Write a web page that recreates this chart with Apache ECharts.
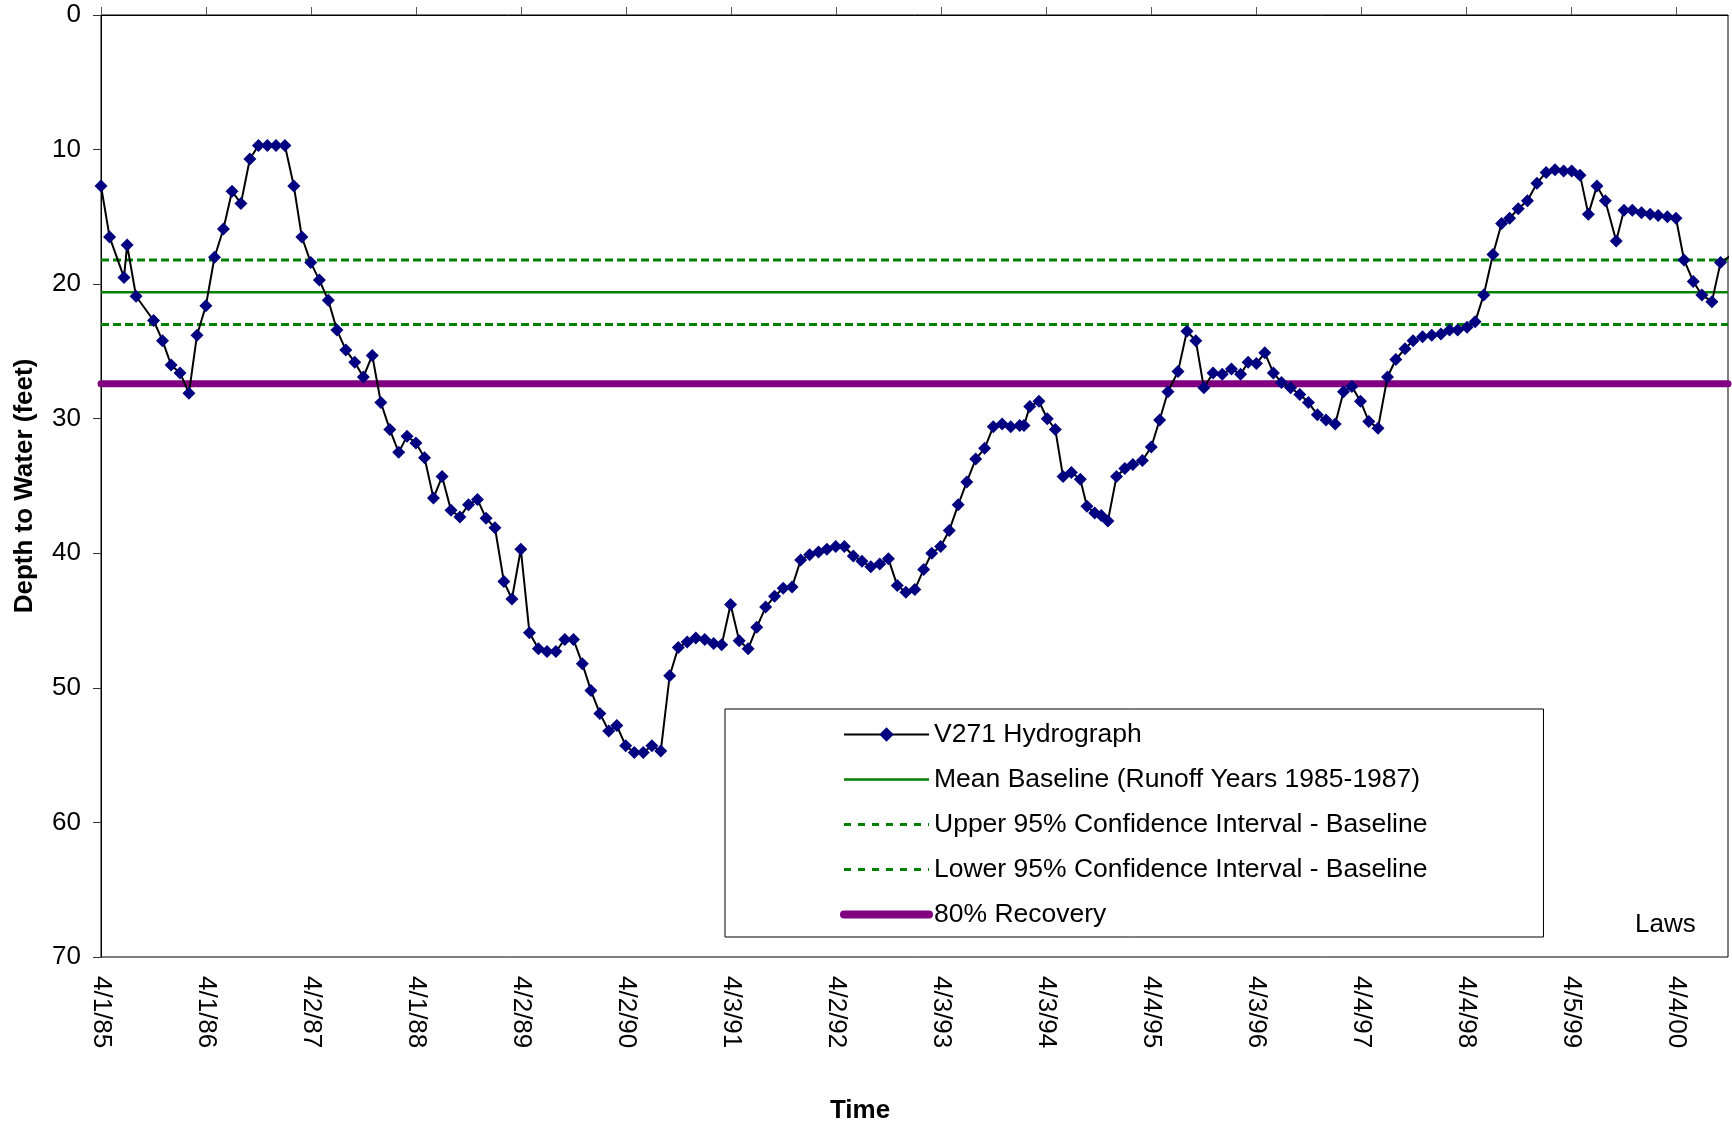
<!DOCTYPE html>
<html>
<head>
<meta charset="utf-8">
<title>V271 Hydrograph - Laws</title>
<script src="https://cdn.jsdelivr.net/npm/echarts@6/dist/echarts.min.js"></script>
<style>
html, body { margin: 0; padding: 0; background: #fff; }
#chart { width: 1732px; height: 1126px; }
</style>
</head>
<body>
<div id="chart"></div>
<script>
var dates = [
  '1985-04-01','1985-05-01','1985-06-20','1985-07-01','1985-08-01','1985-10-01','1985-11-01','1985-12-01',
  '1986-01-01','1986-02-01','1986-03-01','1986-04-01','1986-05-01','1986-06-01','1986-07-01','1986-08-01',
  '1986-09-01','1986-10-01','1986-11-01','1986-12-01','1987-01-01','1987-02-01','1987-03-01','1987-04-01',
  '1987-05-01','1987-06-01','1987-07-01','1987-08-01','1987-09-01','1987-10-01','1987-11-01','1987-12-01',
  '1988-01-01','1988-02-01','1988-03-01','1988-04-01','1988-05-01','1988-06-01','1988-07-01','1988-08-01',
  '1988-09-01','1988-10-01','1988-11-01','1988-12-01','1989-01-01','1989-02-01','1989-03-01','1989-04-01',
  '1989-05-01','1989-06-01','1989-07-01','1989-08-01','1989-09-01','1989-10-01','1989-11-01','1989-12-01',
  '1990-01-01','1990-02-01','1990-03-01','1990-04-01','1990-05-01','1990-06-01','1990-07-01','1990-08-01',
  '1990-09-01','1990-10-01','1990-11-01','1990-12-01','1991-01-01','1991-02-01','1991-03-01','1991-04-01',
  '1991-05-01','1991-06-01','1991-07-01','1991-08-01','1991-09-01','1991-10-01','1991-11-01','1991-12-01',
  '1992-01-01','1992-02-01','1992-03-01','1992-04-01','1992-05-01','1992-06-01','1992-07-01','1992-08-01',
  '1992-09-01','1992-10-01','1992-11-01','1992-12-01','1993-01-01','1993-02-01','1993-03-01','1993-04-01',
  '1993-05-01','1993-06-01','1993-07-01','1993-08-01','1993-09-01','1993-10-01','1993-11-01','1993-12-01',
  '1994-01-01','1994-01-16','1994-02-05','1994-03-09','1994-04-07','1994-05-05','1994-06-01','1994-06-30',
  '1994-07-31','1994-08-23','1994-09-19','1994-10-12','1994-11-04','1994-12-04','1995-01-02','1995-01-30',
  '1995-03-04','1995-04-04','1995-05-03','1995-06-01','1995-07-06','1995-08-06','1995-09-06','1995-10-04',
  '1995-11-05','1995-12-07','1996-01-08','1996-02-09','1996-03-06','1996-04-04','1996-05-03','1996-06-02',
  '1996-06-30','1996-08-01','1996-09-02','1996-10-02','1996-11-02','1996-12-02','1997-01-03','1997-02-01',
  '1997-03-02','1997-04-01','1997-04-30','1997-06-01','1997-07-04','1997-08-02','1997-09-03','1997-10-01',
  '1997-11-03','1997-12-05','1998-01-06','1998-02-05','1998-03-05','1998-04-07','1998-05-05','1998-06-04',
  '1998-07-06','1998-08-05','1998-09-02','1998-10-02','1998-11-03','1998-12-06','1999-01-07','1999-02-07',
  '1999-03-09','1999-04-06','1999-05-05','1999-06-03','1999-07-03','1999-08-01','1999-09-08','1999-10-05',
  '1999-11-03','1999-12-05','2000-01-04','2000-02-01','2000-03-04','2000-04-03','2000-05-01','2000-06-02',
  '2000-07-02','2000-08-06','2000-09-05','2000-10-09'
];
var depth = [
  12.7, 16.5, 19.5, 17.1, 20.9, 22.7, 24.2, 26.0,
  26.6, 28.1, 23.8, 21.6, 18.0, 15.9, 13.1, 14.0,
  10.7, 9.7, 9.7, 9.7, 9.7, 12.7, 16.5, 18.4,
  19.7, 21.2, 23.4, 24.9, 25.8, 26.9, 25.3, 28.8,
  30.8, 32.5, 31.3, 31.8, 32.9, 35.9, 34.3, 36.8,
  37.3, 36.4, 36.0, 37.4, 38.1, 42.1, 43.4, 39.7,
  45.9, 47.1, 47.3, 47.3, 46.4, 46.4, 48.2, 50.2,
  51.9, 53.2, 52.8, 54.3, 54.8, 54.8, 54.3, 54.7,
  49.1, 47.0, 46.6, 46.3, 46.4, 46.7, 46.8, 43.8,
  46.5, 47.1, 45.5, 44.0, 43.2, 42.6, 42.5, 40.5,
  40.1, 39.9, 39.7, 39.5, 39.5, 40.2, 40.6, 41.0,
  40.8, 40.4, 42.4, 42.9, 42.7, 41.2, 40.0, 39.5,
  38.3, 36.4, 34.7, 33.0, 32.2, 30.6, 30.4, 30.6,
  30.5, 30.5, 29.1, 28.7, 30.0, 30.8, 34.3, 34.0,
  34.5, 36.5, 37.0, 37.2, 37.6, 34.3, 33.7, 33.4,
  33.1, 32.1, 30.1, 28.0, 26.5, 23.5, 24.2, 27.7,
  26.6, 26.7, 26.3, 26.7, 25.8, 25.9, 25.1, 26.6,
  27.3, 27.7, 28.2, 28.8, 29.7, 30.1, 30.4, 28.0,
  27.6, 28.7, 30.2, 30.7, 26.9, 25.6, 24.8, 24.2,
  23.9, 23.8, 23.7, 23.4, 23.4, 23.2, 22.8, 20.8,
  17.8, 15.5, 15.1, 14.4, 13.8, 12.5, 11.7, 11.5,
  11.6, 11.6, 11.9, 14.8, 12.7, 13.8, 16.8, 14.5,
  14.5, 14.7, 14.8, 14.9, 15.0, 15.1, 18.2, 19.8,
  20.8, 21.3, 18.4, 17.9
];

// axis tick labels (one every 365.5 days from 4/1/85)
var tickLabels = ['4/1/85','4/1/86','4/2/87','4/1/88','4/2/89','4/2/90','4/3/91','4/2/92',
                  '4/3/93','4/3/94','4/4/95','4/3/96','4/4/97','4/4/98','4/5/99','4/4/00'];

// baseline reference levels (feet)
var meanBaseline = 20.6;
var upperCI = 18.2;
var lowerCI = 23.0;
var recovery80 = 27.4;

var ORIGIN = Date.UTC(1985, 3, 1);
var TICK_STEP = 365.5;
var XMAX = 5662;
var FONT = '"Liberation Sans", Arial, Helvetica, sans-serif';

function toDay(s) {
  var p = s.split('-');
  return (Date.UTC(+p[0], +p[1] - 1, +p[2]) - ORIGIN) / 86400000;
}

var points = [];
for (var i = 0; i < dates.length; i++) {
  points.push([toDay(dates[i]), depth[i]]);
}
var tickValues = tickLabels.map(function (l, k) { return k * TICK_STEP; });

function flat(v) {
  return [[0, v], [XMAX, v]];
}

var MEAN = 'Mean Baseline (Runoff Years 1985-1987)';
var UPPER = 'Upper 95% Confidence Interval - Baseline';
var LOWER = 'Lower 95% Confidence Interval - Baseline';
var REC = '80% Recovery';

var chart = echarts.init(document.getElementById('chart'));
chart.setOption({
  animation: false,
  backgroundColor: '#fff',
  textStyle: { fontFamily: FONT },
  grid: {
    left: 101, top: 15, width: 1627, height: 942,
    show: true, borderColor: '#000', borderWidth: 1, backgroundColor: 'transparent'
  },
  legend: {
    orient: 'vertical',
    left: 725, top: 709,
    padding: [12, 116, 9, 115],
    backgroundColor: '#fff',
    borderColor: '#000',
    borderWidth: 1,
    itemWidth: 85,
    itemHeight: 18,
    itemGap: 18,
    selectedMode: false,
    textStyle: { fontSize: 26.5, color: '#000', fontFamily: FONT },
    data: [
      { name: 'V271 Hydrograph', lineStyle: { width: 2 } },
      { name: MEAN, itemStyle: { opacity: 0 }, lineStyle: { width: 2.5 } },
      { name: UPPER, itemStyle: { opacity: 0 }, lineStyle: { width: 3, type: [7, 7] } },
      { name: LOWER, itemStyle: { opacity: 0 }, lineStyle: { width: 3, type: [7, 7] } },
      { name: REC, itemStyle: { opacity: 0 }, lineStyle: { width: 8, cap: 'round' } }
    ]
  },
  xAxis: [{
    type: 'value',
    position: 'bottom',
    min: 0, max: XMAX, interval: TICK_STEP,
    axisLine: { show: false },
    axisTick: { show: false },
    splitLine: { show: false },
    axisLabel: {
      rotate: -90,
      fontSize: 26,
      color: '#000',
      margin: 19,
      fontFamily: FONT,
      customValues: tickValues,
      formatter: function (v) { return tickLabels[Math.round(v / TICK_STEP)] || ''; }
    }
  }, {
    type: 'value',
    position: 'top',
    min: 0, max: XMAX, interval: TICK_STEP,
    axisLine: { show: true, lineStyle: { color: '#000', width: 1 } },
    axisTick: { show: true, length: 8, customValues: tickValues, lineStyle: { color: '#555' } },
    axisLabel: { show: false },
    splitLine: { show: false }
  }],
  yAxis: {
    type: 'value',
    inverse: true,
    min: 0, max: 70, interval: 10,
    name: 'Depth to Water (feet)',
    nameLocation: 'middle',
    nameRotate: 90,
    nameGap: 63,
    nameTextStyle: { fontSize: 26, fontWeight: 'bold', color: '#000', fontFamily: FONT },
    axisLine: { show: true, lineStyle: { color: '#000', width: 1 } },
    axisTick: { show: true, length: 8, lineStyle: { color: '#333' } },
    axisLabel: { fontSize: 26, color: '#000', margin: 20, fontFamily: FONT },
    splitLine: { show: false }
  },
  series: [{
    name: 'V271 Hydrograph',
    type: 'line',
    data: points,
    z: 5,
    symbol: 'diamond',
    symbolSize: 13,
    showAllSymbol: true,
    lineStyle: { color: '#000', width: 2 },
    itemStyle: { color: '#000080' },
    emphasis: { disabled: true }
  }, {
    name: MEAN,
    type: 'line',
    data: flat(meanBaseline),
    symbol: 'none',
    lineStyle: { color: '#008000', width: 2.5 },
    itemStyle: { color: '#008000' },
    emphasis: { disabled: true }
  }, {
    name: UPPER,
    type: 'line',
    data: flat(upperCI),
    symbol: 'none',
    lineStyle: { color: '#008000', width: 3, type: [8, 4] },
    itemStyle: { color: '#008000' },
    emphasis: { disabled: true }
  }, {
    name: LOWER,
    type: 'line',
    data: flat(lowerCI),
    symbol: 'none',
    lineStyle: { color: '#008000', width: 3, type: [8, 4] },
    itemStyle: { color: '#008000' },
    emphasis: { disabled: true }
  }, {
    name: REC,
    type: 'line',
    data: flat(recovery80),
    symbol: 'none',
    z: 3,
    lineStyle: { color: '#800080', width: 7, cap: 'round' },
    itemStyle: { color: '#800080' },
    emphasis: { disabled: true }
  }],
  graphic: [{
    type: 'text',
    style: {
      x: 1635, y: 925, text: 'Laws',
      font: '26px ' + FONT, fill: '#000',
      verticalAlign: 'middle', textVerticalAlign: 'middle'
    }
  }, {
    type: 'text',
    style: {
      x: 860, y: 1111, text: 'Time',
      font: 'bold 26px ' + FONT, fill: '#000',
      align: 'center', textAlign: 'center',
      verticalAlign: 'middle', textVerticalAlign: 'middle'
    }
  }]
});
</script>
</body>
</html>
